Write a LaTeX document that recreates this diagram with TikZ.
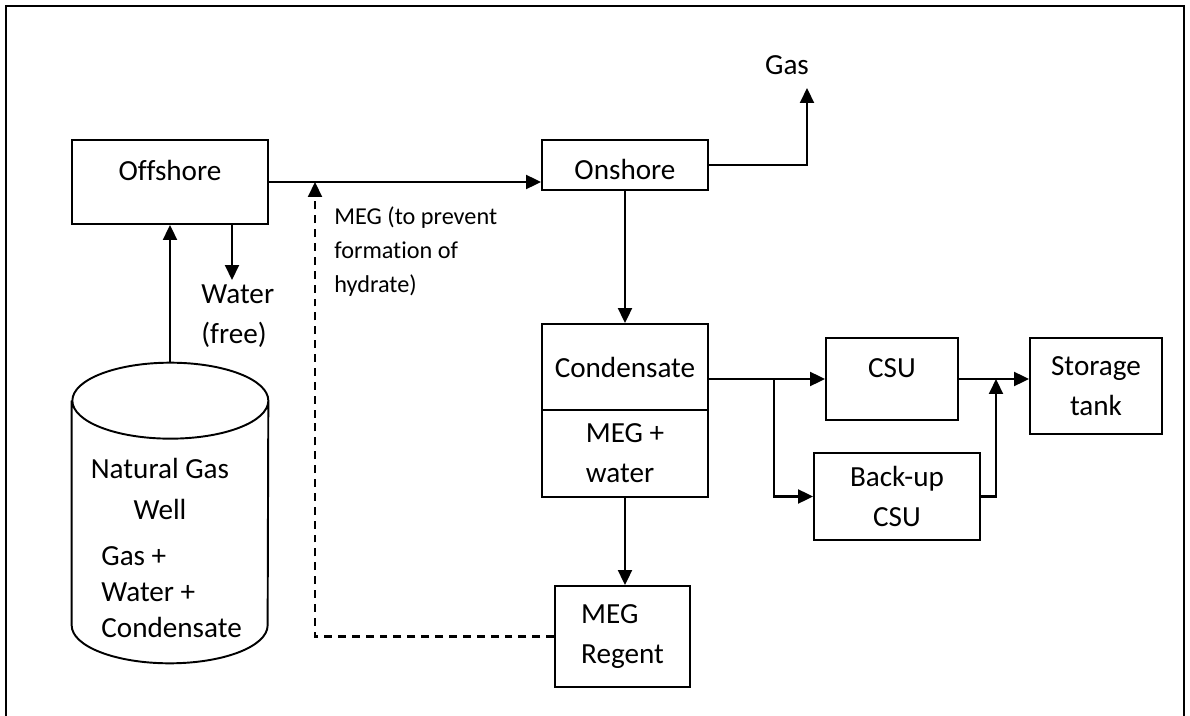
\documentclass[tikz,border=0pt]{standalone}
\usepackage{fontspec}
\setmainfont{Carlito}[Ligatures=NoCommon]
\usepackage{tikz}
\usetikzlibrary{positioning, arrows.meta}

\newcommand{\procfont}{\fontsize{16.6}{22.8}\selectfont}
\newcommand{\mixfont}{\fontsize{16.6}{20.4}\selectfont}
\newcommand{\notefont}{\fontsize{13.8}{19.4}\selectfont}

\begin{document}
\begin{tikzpicture}[
    x=0.02cm, y=-0.02cm,
    box/.style={rectangle, draw, line width=1.1pt, minimum width=3.32cm,
                minimum height=1.72cm, align=center, inner sep=0pt,
                font=\procfont},
    well/.style={rectangle, minimum width=3.92cm, minimum height=6cm, inner sep=0pt},
    lbl/.style={inner sep=0pt, font=\procfont},
    note/.style={inner sep=0pt, align=left, font=\notefont},
    arrow/.style={-{Triangle[length=0.3cm, width=0.28cm]}, line width=1.2pt},
    dasharrow/.style={arrow, dash pattern=on 4.5pt off 3.4pt},
]
\useasboundingbox (0,0) rectangle (1190,716);
\draw[line width=1.2pt] (6,716) -- (6,6) -- (1184,6) -- (1184,716);

\node[box, minimum width=3.92cm, minimum height=1.68cm, text depth=0.48cm] (off) at (170,182) {Offshore};
\node[box, minimum height=1cm, text height=0.6cm] (on) at (625,165) {Onshore};
\node[box] (cond) at (625,367) {Condensate};
\node[box, minimum height=1.74cm, align=left, below=-1.1pt of cond] (megw) {MEG +\\water};
\node[box, minimum width=2.64cm, minimum height=1.64cm, text depth=0.44cm] (csu) at (892,379) {CSU};
\node[box, minimum height=1.74cm] (bcsu) at (897,496.5) {Back-up\\CSU};
\node[box, minimum width=2.64cm, minimum height=1.92cm] (tank) at (1096,386) {Storage\\tank};
\node[box, minimum width=2.7cm, minimum height=2.02cm, align=left] (regen) at (622.5,636.5) {MEG\\Regent};

% the well: cylinder outline round an empty node
\node[well] (well) at (170,513) {};
\draw[line width=1.1pt] ([yshift=-0.76cm]well.north west) -- ([yshift=0.76cm]well.south west)
    arc[start angle=180, end angle=360, x radius=1.96cm, y radius=0.76cm]
    -- ([yshift=-0.76cm]well.north east)
    arc[start angle=0, end angle=180, x radius=1.96cm, y radius=0.76cm]
    arc[start angle=180, end angle=360, x radius=1.96cm, y radius=0.76cm];
\node[lbl, align=center] (wellname) at (160,489) {Natural Gas\\Well};
\node[lbl, align=left, anchor=west, font=\mixfont] (wellmix) at (101,592) {Gas +\\Water +\\Condensate};

\node[lbl, align=left, anchor=west] (water) at (201,316) {Water\\(free)};
\node[note, anchor=west] (megnote) at (334,252) {MEG (to prevent\\formation of\\hydrate)};
\node[lbl] (gas) at (787,65) {Gas};

\coordinate (drain) at (232,280);
\coordinate (inj) at (315,182);
\coordinate (gastip) at (807,88);
\coordinate (split) at (774,379);
\coordinate (merge) at (996,379);

\draw[arrow] (well.north) -- (off.south);
\draw[arrow] (off.south -| drain) -- (drain);
\draw[arrow] (off.east) -- (off.east -| on.west);
\draw[dasharrow] (regen.west) -| (inj);
\draw[arrow] (on.east) -| (gastip);
\draw[arrow] (on.south) -- (cond.north);
\draw[arrow] (megw.south) -- (megw.south |- regen.north);
\draw[arrow] (csu.west -| cond.east) -- (csu.west);
\draw[arrow] (split) |- (bcsu.west);
\draw[arrow] (bcsu.east) -| (merge);
\draw[arrow] (csu.east) -- (csu.east -| tank.west);
\end{tikzpicture}
\end{document}
